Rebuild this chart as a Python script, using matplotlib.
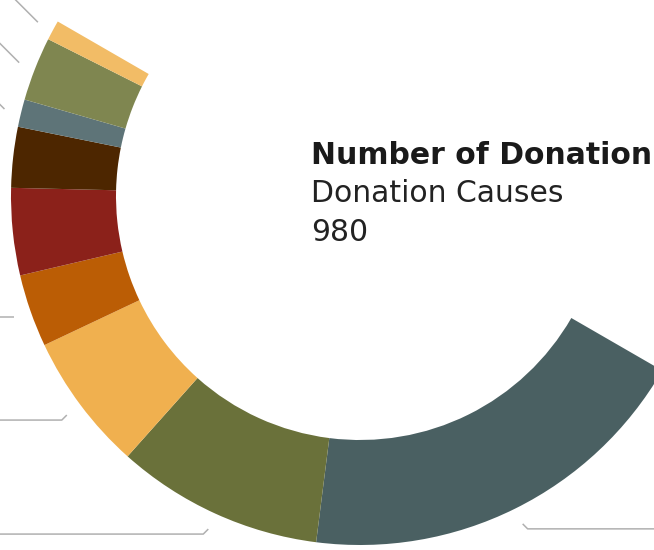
import numpy as np
import matplotlib.pyplot as plt

# donation counts per cause, clockwise from the lower-right end of the half ring
counts = [366, 188, 125, 66, 79, 55, 25, 58, 18]
colors = ['#4a6062', '#6a713a', '#f0b04f', '#bb5d05', '#8b211a',
          '#4d2600', '#5e7478', '#7f8650', '#f2bc66']
title = 'Number of Donation'
subtitle = 'Donation Causes'

W, H = 654, 550
cx, cy = 360, H - 196
r_out, r_in = 349, 244

fig = plt.figure(figsize=(W / 100, H / 100), dpi=100)
ax = fig.add_axes([0, 0, 1, 1])

total = sum(counts)
# the second half of the ring is an invisible filler slice
wedges, _ = ax.pie(counts + [total], colors=colors + ['none'],
                   startangle=330, counterclock=False,
                   center=(cx, cy), radius=r_out,
                   wedgeprops=dict(width=r_out - r_in, linewidth=0))

# leader lines (labels sit outside the view)
for w in wedges[:-1]:
    mid = np.deg2rad((w.theta1 + w.theta2) / 2)
    c, s = np.cos(mid), np.sin(mid)
    x0, y0 = cx + 366 * c, cy + 366 * s
    sx = 1 if c > 0 else -1
    sy = 1 if s > 0 else -1
    if s > 0.15:
        d = 80
    elif s > -0.4:
        d = 0
    else:
        d = 5
    x1, y1 = x0 + sx * d, y0 + sy * d
    x2 = -50 if sx < 0 else W + 50
    ax.plot([x0, x1, x2], [y0, y1, y1], color='#b0b0b0', lw=1.1,
            solid_capstyle='butt')

fs = 21.5
ax.text(311, H - 164.5, title, fontsize=fs, fontweight='bold',
        color='#1a1a1a', va='baseline', ha='left')
ax.text(311, H - 201.7, subtitle, fontsize=fs, color='#222222',
        va='baseline', ha='left')
ax.text(311, H - 241, str(total), fontsize=fs, color='#222222',
        va='baseline', ha='left')

ax.set_xlim(0, W)
ax.set_ylim(0, H)
ax.set_aspect('equal')
ax.axis('off')

fig.savefig('out.png', dpi=100)
